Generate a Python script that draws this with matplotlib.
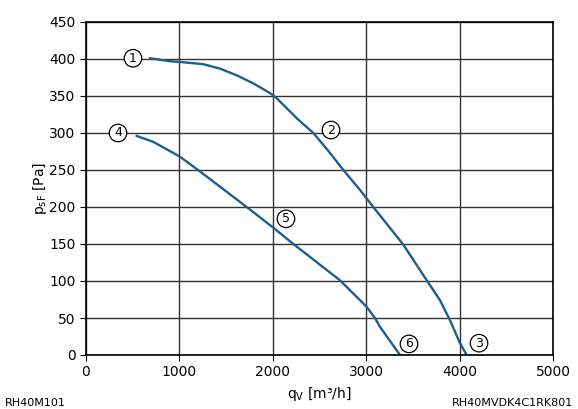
import matplotlib
matplotlib.use("Agg")
import matplotlib.pyplot as plt

# curve 1-2-3
q_a = [685, 899, 1006, 1256, 1435, 1613, 1792, 1970, 2042, 2256, 2434, 2600, 2755,
       2934, 3076, 3398, 3648, 3790, 3897, 4004, 4076]
p_a = [401, 397, 396, 393, 387, 378, 367, 354, 347, 320, 300, 275, 250,
       223, 200, 149, 101, 74, 47, 16, 0]
# curve 4-5-6
q_b = [543, 721, 1006, 1221, 1720, 2006, 2220, 2719, 2934, 3005, 3094, 3148, 3362]
p_b = [296, 288, 268, 248, 200, 172, 150, 101, 74, 65, 50, 38, 0]

marks = ["1", "2", "3", "4", "5", "6"]
mark_q = [503, 2623, 4208, 343, 2141, 3458]
mark_p = [401, 304, 16, 300, 184, 15]

fig = plt.figure(figsize=(5.78, 4.09), dpi=100)
ax = fig.add_axes([86/578, 1-355/409, (553-86)/578, (355-22)/409])

ax.plot(q_a, p_a, color="#1d5e8c", lw=1.7, solid_joinstyle="round")
ax.plot(q_b, p_b, color="#1d5e8c", lw=1.7, solid_joinstyle="round")

for m, x, y in zip(marks, mark_q, mark_p):
    ax.text(x, y, m, ha="center", va="center", fontsize=9,
            bbox=dict(boxstyle="circle,pad=0.18", fc="white", ec="black", lw=0.9))

ax.set_xlim(0, 5000)
ax.set_ylim(0, 450)
ax.set_xticks(range(0, 5001, 1000))
ax.set_yticks(range(0, 451, 50))
ax.grid(True, color="#333333", lw=1.0)
ax.set_axisbelow(True)
for s in ax.spines.values():
    s.set_color("black")
    s.set_linewidth(1.2)
ax.tick_params(labelsize=10, length=4, color="black")
ax.set_xlabel("q$_\\mathregular{V}$ [m³/h]", fontsize=10, labelpad=4)
ax.set_ylabel("p$_\\mathregular{sF}$ [Pa]", fontsize=10, labelpad=0)

fig.text(5/578, 1-403/409, "RH40M101", fontsize=8, va="center", ha="left")
fig.text(573/578, 1-403/409, "RH40MVDK4C1RK801", fontsize=8, va="center", ha="right")

fig.savefig("out.png", dpi=100)
